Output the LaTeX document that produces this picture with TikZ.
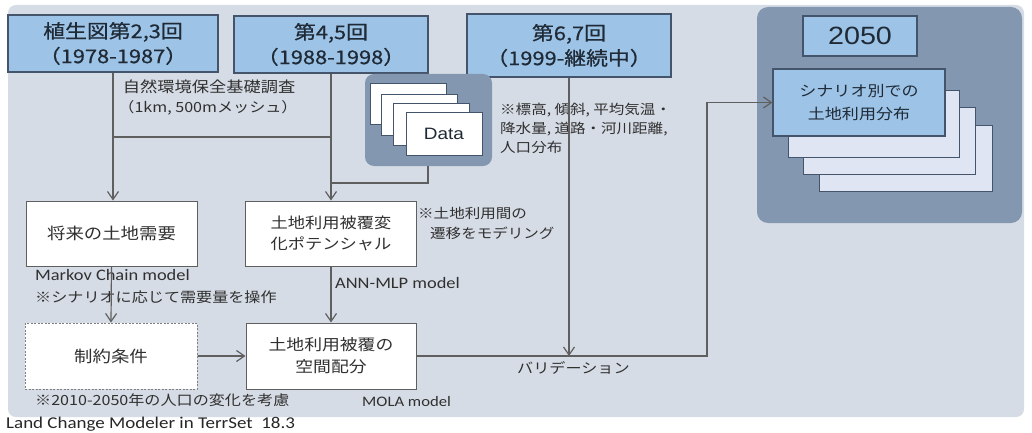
\documentclass[tikz,border=0pt]{standalone}
\usepackage{fontspec}
\setmainfont[FakeStretch=1.15]{Noto Sans CJK JP}
\newfontfamily\jpm[FakeStretch=1.15,FakeBold=0.6]{Noto Sans CJK JP}
\newfontfamily\arialf[FakeStretch=1.15]{Liberation Sans}
\newfontfamily\calf[FakeStretch=1.15]{Carlito}
\usetikzlibrary{arrows.meta}
\definecolor{bgpanel}{HTML}{D6DCE5}
\definecolor{blueF}{HTML}{9DC3E6}
\definecolor{darkP}{HTML}{8497B0}
\definecolor{lightS}{HTML}{DFE5F2}
\definecolor{boxedge}{HTML}{44546A}
\definecolor{lnc}{HTML}{5F5F5F}
\definecolor{txt}{HTML}{1F2A36}
\definecolor{txt2}{HTML}{303030}
\tikzset{
  topbox/.style={draw=boxedge, line width=1.1pt, fill=blueF, inner sep=0pt, align=center, text=txt,
    font=\jpm\fontsize{19}{25}\selectfont},
  wbox/.style={draw=lnc, line width=1pt, fill=white, inner sep=0pt, align=center, text=txt2},
  dbox/.style={draw=boxedge, line width=1pt, fill=white, inner sep=0pt},
  sbox/.style={draw=boxedge, line width=1pt, fill=lightS, inner sep=0pt},
  panel/.style={fill=darkP, rounded corners=9pt, inner sep=0pt},
  note/.style={anchor=west, inner sep=0pt, text=txt2, align=left},
  ln/.style={draw=lnc, line width=1.2pt},
  arr/.style={ln, -{Straight Barb[length=8pt,width=11pt]}}
}
\begin{document}
\begin{tikzpicture}[x=1pt,y=-1pt]
\useasboundingbox (0,0) rectangle (1032,433);
\fill[white] (0,0) rectangle (1032,433);
% background panel
\node[fill=bgpanel, rounded corners=8pt, inner sep=0pt, minimum width=1016pt, minimum height=412pt] (bg) at (516,211) {};
% top boxes
\node[topbox, minimum width=210pt, minimum height=57pt] (b1) at (113,43.5) {植生図第2,3回\\（1978-1987）};
\node[topbox, minimum width=194pt, minimum height=57pt] (b2) at (331,44.5) {第4,5回\\（1988-1998）};
\node[topbox, minimum width=204pt, minimum height=63pt] (b3) at (569,45.5) {第6,7回\\（1999-継続中）};
% data panel
\node[panel, minimum width=127pt, minimum height=92pt] (dp) at (428.5,120) {};
\node[dbox, minimum width=76pt, minimum height=40pt] (d1) at (408,104) {};
\node[dbox, minimum width=76pt, minimum height=40pt] (d2) at (419.5,115) {};
\node[dbox, minimum width=76pt, minimum height=41pt] (d3) at (431,124.5) {};
\node[dbox, minimum width=76pt, minimum height=42pt, font=\arialf\fontsize{16.5}{20}\selectfont, text=txt] (d4) at (444,134) {Data};
% right panel
\node[panel, rounded corners=11pt, minimum width=265pt, minimum height=216pt] (rp) at (889.5,115) {};
\node[topbox, minimum width=114pt, minimum height=40pt, font=\arialf\fontsize{25}{30}\selectfont] (y50) at (860,36) {2050};
\node[sbox, minimum width=173pt, minimum height=66pt] (s4) at (905.5,158) {};
\node[sbox, minimum width=172pt, minimum height=66pt] (s3) at (889,141) {};
\node[sbox, minimum width=171pt, minimum height=66pt] (s2) at (873.5,124) {};
\node[topbox, minimum width=172pt, minimum height=67pt, font=\fontsize{14.8}{23}\selectfont] (fb) at (859,102.5) {シナリオ別での\\土地利用分布};
% middle boxes
\node[wbox, minimum width=171pt, minimum height=65pt, font=\fontsize{16}{21}\selectfont] (A) at (111.5,233.5) {将来の土地需要};
\node[wbox, minimum width=171pt, minimum height=65pt, font=\fontsize{15}{21}\selectfont] (B) at (331,233.5) {土地利用被覆変\\化ポテンシャル};
\node[wbox, draw=lnc!80, dash pattern=on 2pt off 1.5pt, minimum width=172pt, minimum height=66pt, font=\fontsize{16}{21}\selectfont] (C) at (111,356) {制約条件};
\node[wbox, minimum width=170pt, minimum height=66pt, font=\fontsize{15.5}{22}\selectfont] (D) at (331,356) {土地利用被覆の\\空間配分};
% notes
\node[inner sep=0pt, text=txt2, font=\fontsize{15}{18}\selectfont] (n1) at (209,87) {自然環境保全基礎調査};
\node[inner sep=0pt, text=txt2, font=\fontsize{14}{18}\selectfont] (n2) at (208,108) {（1km, 500mメッシュ）};
\node[note, font=\fontsize{13.5}{19}\selectfont] (n3) at (500,128) {※標高, 傾斜, 平均気温・\\降水量, 道路・河川距離,\\人口分布};
\node[note, font=\fontsize{13.5}{16}\selectfont] (n4) at (418,213) {※土地利用間の};
\node[note, font=\fontsize{13.5}{16}\selectfont] (n5) at (430,233) {遷移をモデリング};
\node[note, font=\calf\fontsize{16}{18}\selectfont] (n6) at (35,275) {Markov Chain model};
\node[note, font=\fontsize{14}{18}\selectfont] (n7) at (35,297) {※シナリオに応じて需要量を操作};
\node[note, font=\calf\fontsize{16}{18}\selectfont] (n8) at (335,283) {ANN-MLP model};
\node[note, font=\fontsize{14}{18}\selectfont] (n9) at (35,400) {※2010-2050年の人口の変化を考慮};
\node[note, font=\calf\fontsize{14.5}{18}\selectfont] (n10) at (362,402) {MOLA model};
\node[note, font=\fontsize{14}{18}\selectfont] (n11) at (517,368) {バリデーション};
\node[note, text=black!85, font=\calf\fontsize{16.5}{18}\selectfont] (n12) at (6,424) {Land Change Modeler in TerrSet\ \ 18.3};
% connectors
\coordinate (j1) at (331,137);
\coordinate (j2) at (113,137);
\coordinate (j3) at (428,183);
\coordinate (j4) at (331,183);
\coordinate (turn) at (707,356);
\draw[arr] (b1.south -| j2) -- (j2 |- A.north);
\draw[ln] (j1) -- (j2);
\draw[arr] (b2.south) -- (B.north);
\draw[ln] (dp.south -| j3) -- (j3) -- (j4);
\draw[arr] (A.south) -- (C.north);
\draw[arr] (B.south) -- (D.north);
\draw[arr] (C.east) -- (D.west);
\draw[arr] (D.east) -- (turn) |- (fb.west);
\draw[arr] (b3.south) -- (b3.south |- turn);
\end{tikzpicture}
\end{document}
